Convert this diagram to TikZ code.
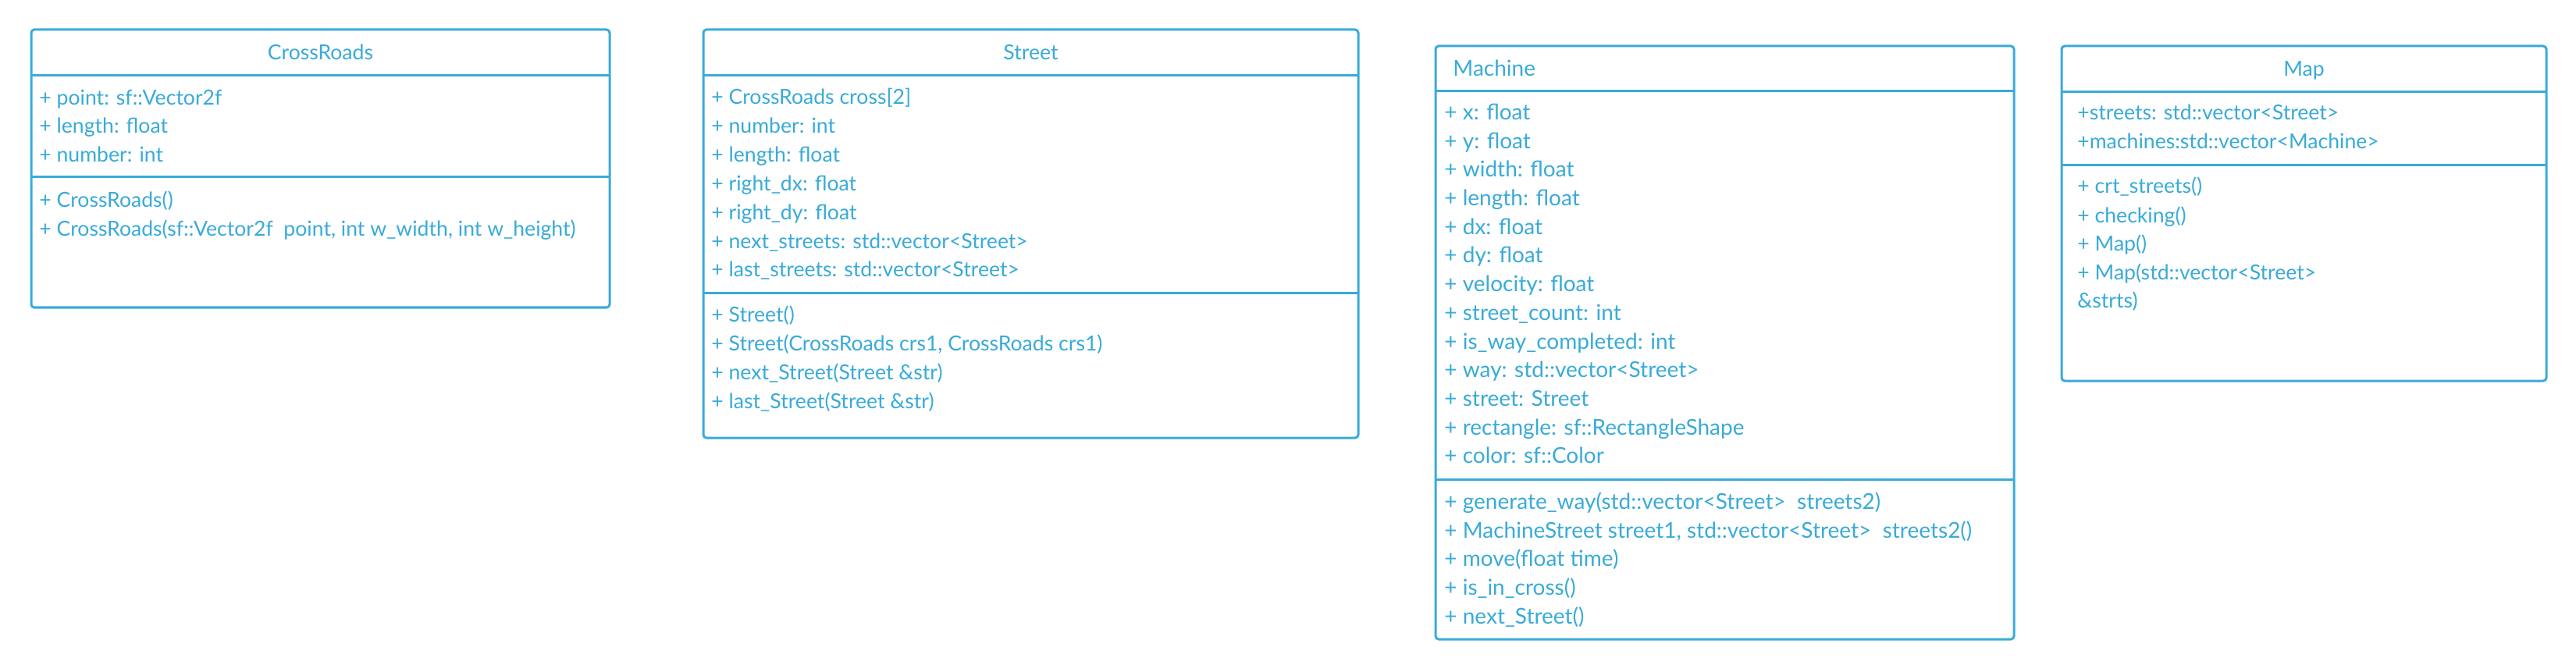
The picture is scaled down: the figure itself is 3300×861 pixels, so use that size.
\documentclass[tikz,border=0pt]{standalone}
\usepackage{fontspec}
\setmainfont{Lato}
\definecolor{cb}{HTML}{39ABD8}
\tikzset{
  x=0.5pt, y=-0.5pt,
  classbox/.style={draw=cb, line width=1.5pt, rounded corners=2pt, fill=white},
  sepline/.style={draw=cb, line width=1.5pt},
  txt/.style={anchor=base west, inner sep=0pt, text=cb, font=\fontsize{13.3}{15}\selectfont},
  mtxt/.style={anchor=base west, inner sep=0pt, text=cb, font=\fontsize{14}{16}\selectfont},
  ttl/.style={anchor=base, inner sep=0pt, text=cb, font=\fontsize{13.3}{15}\selectfont},
}
\begin{document}
\begin{tikzpicture}
\useasboundingbox[fill=white] (0,0) rectangle (3300,861);
% CrossRoads
\draw[classbox] (40,38) rectangle (781,394);
\draw[sepline] (40,97) -- (781,97);
\draw[sepline] (40,227) -- (781,227);
\node[ttl] (crT) at (410.5,77) {CrossRoads};
\node[txt] (cr1) at (50,134.5) {+ point: sf::Vector2f};
\node[txt] (cr2) at (50,171) {+ length: float};
\node[txt] (cr3) at (50,207.5) {+ number: int};
\node[txt] (cr4) at (50,266) {+ CrossRoads()};
\node[txt] (cr5) at (50,303) {+ CrossRoads(sf::Vector2f\ \ point, int w\_width, int w\_height)};
% Street
\draw[classbox] (901,38) rectangle (1740,561);
\draw[sepline] (901,97) -- (1740,97);
\draw[sepline] (901,376) -- (1740,376);
\node[ttl] (stT) at (1320.5,77) {Street};
\node[txt] (st1) at (911,134) {+ CrossRoads cross[2]};
\node[txt] (st2) at (911,171) {+ number: int};
\node[txt] (st3) at (911,207.5) {+ length: float};
\node[txt] (st4) at (911,244.5) {+ right\_dx: float};
\node[txt] (st5) at (911,281.5) {+ right\_dy: float};
\node[txt] (st6) at (911,318.5) {+ next\_streets: std::vector<Street>};
\node[txt] (st7) at (911,355) {+ last\_streets: std::vector<Street>};
\node[txt] (st8) at (911,413) {+ Street()};
\node[txt] (st9) at (911,449.5) {+ Street(CrossRoads crs1, CrossRoads crs1)};
\node[txt] (st10) at (911,486.5) {+ next\_Street(Street \&str)};
\node[txt] (st11) at (911,523) {+ last\_Street(Street \&str)};
% Machine
\draw[classbox] (1839,59) rectangle (2580,819);
\draw[sepline] (1839,117) -- (2580,117);
\draw[sepline] (1839,614) -- (2580,614);
\node[mtxt] (mT) at (1861,98) {Machine};
\node[mtxt] (m1) at (1850,153.4) {+ x: float};
\node[mtxt] (m2) at (1850,190.1) {+ y: float};
\node[mtxt] (m3) at (1850,226.8) {+ width: float};
\node[mtxt] (m4) at (1850,263.5) {+ length: float};
\node[mtxt] (m5) at (1850,300.2) {+ dx: float};
\node[mtxt] (m6) at (1850,336.9) {+ dy: float};
\node[mtxt] (m7) at (1850,373.6) {+ velocity: float};
\node[mtxt] (m8) at (1850,410.3) {+ street\_count: int};
\node[mtxt] (m9) at (1850,447) {+ is\_way\_completed: int};
\node[mtxt] (m10) at (1850,483.7) {+ way: std::vector<Street>};
\node[mtxt] (m11) at (1850,520.4) {+ street: Street};
\node[mtxt] (m12) at (1850,557.1) {+ rectangle: sf::RectangleShape};
\node[mtxt] (m13) at (1850,593.8) {+ color: sf::Color};
\node[mtxt] (m14) at (1850,652.6) {+ generate\_way(std::vector<Street>\ \ streets2)};
\node[mtxt] (m15) at (1850,689.2) {+ MachineStreet street1, std::vector<Street>\ \ streets2()};
\node[mtxt] (m16) at (1850,725.8) {+ move(float time)};
\node[mtxt] (m17) at (1850,762.4) {+ is\_in\_cross()};
\node[mtxt] (m18) at (1850,799) {+ next\_Street()};
% Map
\draw[classbox] (2641,59) rectangle (3262,488);
\draw[sepline] (2641,117.5) -- (3262,117.5);
\draw[sepline] (2641,211.5) -- (3262,211.5);
\node[ttl] (mpT) at (2951.5,98) {Map};
\node[txt] (mp1) at (2661,154) {+streets: std::vector<Street>};
\node[txt] (mp2) at (2661,190.7) {+machines:std::vector<Machine>};
\node[txt] (mp3) at (2661,248) {+ crt\_streets()};
\node[txt] (mp4) at (2661,285.3) {+ checking()};
\node[txt] (mp5) at (2661,321.3) {+ Map()};
\node[txt] (mp6) at (2661,358) {+ Map(std::vector<Street>};
\node[txt] (mp7) at (2661,394.7) {\&strts)};
\end{tikzpicture}
\end{document}
